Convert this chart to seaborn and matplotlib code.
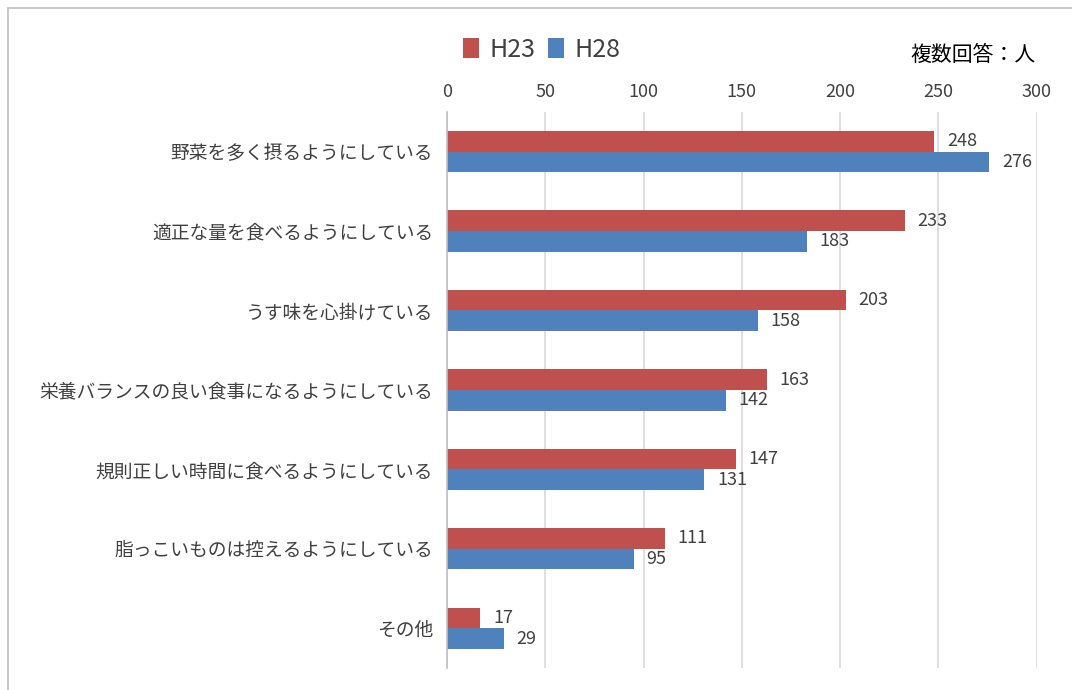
import matplotlib
matplotlib.use('Agg')
import matplotlib.pyplot as plt
import seaborn as sns
import pandas as pd
from matplotlib.patches import Rectangle

# Data
categories = [
    '野菜を多く摂るようにしている',
    '適正な量を食べるようにしている',
    'うす味を心掛けている',
    '栄養バランスの良い食事になるようにしている',
    '規則正しい時間に食べるようにしている',
    '脂っこいものは控えるようにしている',
    'その他',
]
series_names = ['H23', 'H28']
h23_values = [248, 233, 203, 163, 147, 111, 17]
h28_values = [276, 183, 158, 142, 131, 95, 29]
x_ticks = [0, 50, 100, 150, 200, 250, 300]

COLORS = ['#C0504D', '#4F81BD']
TEXT_COLOR = '#404040'

df = pd.DataFrame({
    'category': categories * 2,
    'year': [series_names[0]] * len(categories) + [series_names[1]] * len(categories),
    'value': h23_values + h28_values,
})

sns.set_style('white')
plt.rcParams['font.family'] = ['Noto Sans CJK JP', 'DejaVu Sans']

fig = plt.figure(figsize=(10.72, 6.9), dpi=100)
ax = fig.add_axes([0.417, 0.032, 0.55, 0.806])

sns.barplot(data=df, x='value', y='category', hue='year', order=categories,
            hue_order=series_names, palette=COLORS, width=0.52, saturation=1,
            orient='h', linewidth=0, ax=ax, legend=True)

ax.set_xlim(0, 300)
ax.set_xticks(x_ticks)
ax.xaxis.tick_top()
ax.tick_params(axis='x', length=0, labelsize=13, labelcolor=TEXT_COLOR, pad=8)
ax.tick_params(axis='y', length=0, labelsize=13.5, labelcolor=TEXT_COLOR, pad=10)
ax.set_xlabel('')
ax.set_ylabel('')
ax.grid(axis='x', color='#D9D9D9', linewidth=1.2)
ax.set_axisbelow(True)
for side in ['top', 'right', 'bottom']:
    ax.spines[side].set_visible(False)
ax.spines['left'].set_color('#BFBFBF')
ax.spines['left'].set_linewidth(1.2)

# value labels
for container in ax.containers:
    ax.bar_label(container, padding=9, fontsize=13, color=TEXT_COLOR)

# legend
handles, labels = ax.get_legend_handles_labels()
ax.legend(handles, labels, loc='center left', bbox_to_anchor=(0.411, 0.928),
          bbox_transform=fig.transFigure, ncol=2, frameon=False, fontsize=18,
          handlelength=0.65, handleheight=0.85, handletextpad=0.4,
          columnspacing=0.5, labelcolor=TEXT_COLOR)

fig.text(0.966, 0.92, '複数回答：人', ha='right', va='center', fontsize=15, color='black')

# outer border
fig.patches.append(Rectangle((8 / 1072, -0.1), 1.2, 1 - 8 / 690 + 0.1,
                             transform=fig.transFigure, fill=False,
                             edgecolor='#BFBFBF', linewidth=1.2))

fig.savefig('out.png', dpi=100)
